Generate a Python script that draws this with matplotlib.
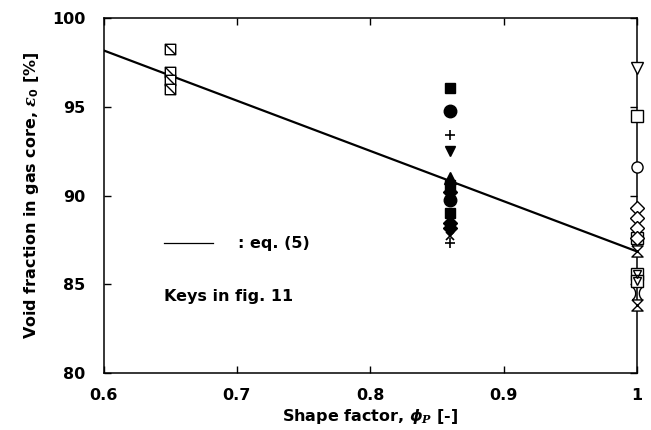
import numpy as np
import matplotlib.pyplot as plt
from matplotlib.path import Path

plt.rcParams['font.family'] = ['DejaVu Sans']
plt.rcParams['font.weight'] = 'bold'
plt.rcParams['mathtext.fontset'] = 'custom'
plt.rcParams['mathtext.it'] = 'DejaVu Serif:italic'
plt.rcParams['mathtext.bf'] = 'DejaVu Sans:bold:italic'

# eq. (5) end points
line_x = [0.6, 1.0]
line_y = [98.2, 86.85]

# phi = 0.65 (hatched squares)
x065 = [0.65, 0.65, 0.65, 0.65]
y065 = [98.3, 97.0, 96.5, 96.0]

# phi = 0.86
sq_fill_y = [96.1, 90.6, 89.0]
ci_fill_y = [94.8, 89.75]
plus_y = [93.4, 87.3]
tri_dn_fill_y = [92.5]
tri_up_fill_y = [91.0]
dia_fill_y = [90.2, 88.45, 88.15]
cross_y = [87.7]

# phi = 1
tri_dn_open_y = [97.2]
sq_open_y = [94.5, 87.6]
ci_open_y = [91.6]
dia_open_y = [89.3, 88.75, 88.2, 87.6]
hour_y = [86.85, 83.8]
sqv_y = [85.6, 85.2]
cres_y = [84.5]

xticks = [0.6, 0.7, 0.8, 0.9, 1.0]
xticklabels = ['0.6', '0.7', '0.8', '0.9', '1']
yticks = [80, 85, 90, 95, 100]

# custom marker shapes
hatch_sq = Path([(-1, -1), (1, -1), (1, 1), (-1, 1), (-1, -1), (-1, 1), (1, -1)],
                [Path.MOVETO, Path.LINETO, Path.LINETO, Path.LINETO, Path.CLOSEPOLY,
                 Path.MOVETO, Path.LINETO])
hourglass = Path([(-1, 1), (1, 1), (-1, -1), (1, -1), (-1, 1)],
                 [Path.MOVETO, Path.LINETO, Path.LINETO, Path.LINETO, Path.LINETO])
t = np.linspace(-0.9, 0.9, 20)
left_arc = np.column_stack([-1.6 + 1.3 * np.cos(t), 1.3 * np.sin(t)])
right_arc = np.column_stack([1.6 - 1.3 * np.cos(t), 1.3 * np.sin(t)])
cres_verts = np.vstack([left_arc, right_arc])
cres_codes = ([Path.MOVETO] + [Path.LINETO] * 19) * 2
crescent = Path(cres_verts, cres_codes)

fig = plt.figure(figsize=(6.51, 4.30), dpi=100)
ax = fig.add_axes([0.159, 0.133, 0.8195, 0.824])

ax.plot(line_x, line_y, color='black', lw=1.6, zorder=2)

ax.plot(x065, y065, ls='none', marker=hatch_sq, ms=7.5, mfc='white', mec='black', mew=1.0)

x86 = 0.86
def col(vals, xv):
    return [xv] * len(vals)

ax.plot(col(sq_fill_y, x86), sq_fill_y, ls='none', marker='s', ms=7, color='black')
ax.plot(col(ci_fill_y, x86), ci_fill_y, ls='none', marker='o', ms=9, color='black')
ax.plot(col(plus_y, x86), plus_y, ls='none', marker='+', ms=7, color='black', mew=1.2)
ax.plot(col(tri_dn_fill_y, x86), tri_dn_fill_y, ls='none', marker='v', ms=7, color='black')
ax.plot(col(tri_up_fill_y, x86), tri_up_fill_y, ls='none', marker='^', ms=8, color='black')
ax.plot(col(dia_fill_y, x86), dia_fill_y, ls='none', marker='D', ms=7, color='black')
ax.plot(col(cross_y, x86), cross_y, ls='none', marker='x', ms=6, color='black', mew=1.2)

x1 = 1.0
open_kw = dict(ls='none', mfc='white', mec='black', mew=1.0, clip_on=False, zorder=3)
ax.plot(col(tri_dn_open_y, x1), tri_dn_open_y, marker='v', ms=9, **open_kw)
ax.plot(col(sq_open_y, x1), sq_open_y, marker='s', ms=9, **open_kw)
ax.plot(col(ci_open_y, x1), ci_open_y, marker='o', ms=8, **open_kw)
ax.plot(col(dia_open_y, x1), dia_open_y, marker='D', ms=7, **open_kw)
ax.plot(col(hour_y, x1), hour_y, marker=hourglass, ms=8, **open_kw)
ax.plot(col(sqv_y, x1), sqv_y, marker='s', ms=9, **open_kw)
ax.plot(col(sqv_y, x1), sqv_y, marker='v', ms=6, ls='none', mfc='none', mec='black',
        mew=1.0, clip_on=False, zorder=4)
ax.plot(col(cres_y, x1), cres_y, marker=crescent, ms=9, ls='none', mfc='none', mec='black',
        mew=1.0, clip_on=False, zorder=3)

# key for the line
ax.plot([0.645, 0.682], [87.3, 87.3], color='black', lw=0.9)
ax.text(0.701, 87.3, ': eq. (5)', fontsize=11.5, fontweight='bold', va='center')
ax.text(0.645, 84.3, 'Keys in fig. 11', fontsize=11.5, fontweight='bold', va='center')

ax.set_xlim(0.6, 1.0)
ax.set_ylim(80, 100)
ax.set_xticks(xticks)
ax.set_xticklabels(xticklabels)
ax.set_yticks(yticks)
ax.tick_params(direction='in', length=5, width=1.0, top=True, right=True,
               labelsize=11.5, pad=11)
ax.tick_params(axis='y', pad=13)
for lab in ax.get_xticklabels() + ax.get_yticklabels():
    lab.set_fontweight('bold')
for s in ax.spines.values():
    s.set_linewidth(1.1)

ax.set_xlabel(r'Shape factor, $\mathbf{\phi}_{P}$ [-]', fontsize=11.5,
              fontweight='bold', labelpad=2)
ax.set_ylabel(r'Void fraction in gas core, $\varepsilon_0$ [%]', fontsize=11.5,
              fontweight='bold', labelpad=8)

fig.savefig('out.png', dpi=100)
